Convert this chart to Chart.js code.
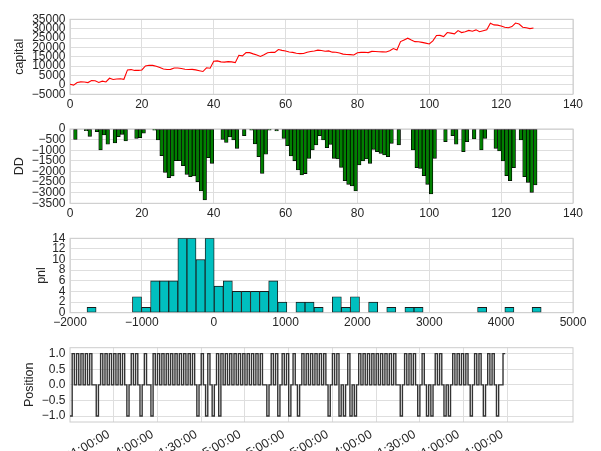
<!DOCTYPE html>
<html>
<head>
<meta charset="utf-8">
<script src="https://cdn.jsdelivr.net/npm/chart.js@4.4.1/dist/chart.umd.min.js"></script>
<style>
  html, body { margin: 0; padding: 0; background: #ffffff; }
  #wrap { position: relative; width: 601px; height: 451px; overflow: hidden; }
  canvas { position: absolute; left: 0; }
</style>
</head>
<body>
<div id="wrap">
  <canvas id="capitalChart"></canvas>
  <canvas id="ddChart"></canvas>
  <canvas id="pnlChart"></canvas>
  <canvas id="posChart"></canvas>
</div>
<script>
/* ================= DATA ================= */

// equity curve, one value per trade
const capital = [
  400, -90, 1250, 1600, 1520, 1255, 2313, 2190, 1320, 2030,
  1590, 3560, 2900, 3200, 3310, 3000, 8000, 8180, 7740, 7770,
  7980, 10140, 10500, 10440, 9980, 9244, 8460, 8210, 8286, 9010,
  9010, 8770, 8365, 8255, 8286, 8020, 7580, 7156, 9150, 8883,
  12630, 12800, 12313, 12170, 12423, 12282, 11890, 15833, 15520, 17256,
  17206, 16550, 15956, 15166, 16066, 17206, 17434, 17339, 18857, 18417,
  18072, 17587, 17357, 16927, 16690, 16757, 17475, 17868, 18103, 18543,
  18339, 17978, 18135, 17475, 17444, 17051, 16423, 16251, 16172, 15937,
  17161, 17350, 17444, 17240, 17899, 17789, 17711, 17632, 17554, 18182,
  19391, 18641, 23127, 24017, 24906, 23916, 23085, 23053, 22708, 22300,
  21846, 23526, 26329, 26400, 25800, 27930, 27616, 27210, 28998, 27928,
  28398, 29100, 28630, 29354, 28364, 28914, 29400, 32912, 32002, 31876,
  31405, 30714, 30478, 31091, 33000, 32482, 30755, 30488, 30017, 30362
];

// drawdown per trade
const drawdown = [
  0, -490, 0, 0, -80, -345, 0, -125, -990, -280,
  -720, 0, -660, -360, -250, -565, 0, 0, -440, -410,
  -200, 0, 0, -60, -520, -1256, -2040, -2290, -2214, -1490,
  -1490, -1730, -2135, -2245, -2214, -2480, -2920, -3344, -1350, -1617,
  0, 0, -487, -630, -377, -518, -910, 0, -314, 0,
  -50, -706, -1300, -2090, -1190, -50, 0, -95, 0, -440,
  -785, -1270, -1500, -1930, -2167, -2100, -1382, -989, -754, -314,
  -518, -879, -722, -1382, -1413, -1806, -2434, -2606, -2685, -2920,
  -1696, -1507, -1413, -1617, -958, -1068, -1146, -1225, -1303, -675,
  0, -750, 0, 0, 0, -990, -1821, -1853, -2198, -2606,
  -3060, -1380, 0, 0, -600, 0, -314, -720, 0, -1070,
  -600, 0, -470, 0, -990, -440, 0, 0, -910, -1036,
  -1507, -2198, -2434, -1821, 0, -518, -2245, -2512, -2983, -2638
];

// pnl histogram: 50 bins
const pnlBinStart = -1763;
const pnlBinWidth = 126.4;
const pnlCounts = [
  1, 0, 0, 0, 0, 3, 1, 6, 6, 6,
  14, 14, 10, 14, 5, 6, 4, 4, 4, 4,
  6, 2, 0, 2, 2, 1, 0, 3, 1, 3,
  0, 2, 0, 1, 0, 1, 1, 0, 0, 0,
  0, 0, 0, 1, 0, 0, 1, 0, 0, 1
];

// position at each sample (long 1, flat 0, short -1)
const positions = [
  -1, 1, 0, 1, 0, 1, 0, 1, 0, 1, 0, 0, -1, 0, 1, 0, 1, 0, 1, 0,
  1, 0, 1, 0, 1, 0, -1, 0, 1, 0, 1, 0, -1, 0, 1, 0, 0, -1, 1, 0,
  1, 0, 1, 0, 1, 0, 1, 0, 1, 0, 1, 0, 1, 0, 1, 0, 1, 0, -1, 0,
  1, 0, -1, 1, 0, -1, 0, 1, -1, 1, 0, 1, 0, 1, 0, 1, 0, 1, 0, 1,
  0, 1, 0, 1, 0, 1, 0, 1, 0, 0, -1, 0, 1, 0, 1, -1, 0, 1, 0, 1,
  -1, 0, 1, 0, -1, 0, 1, 0, 1, 0, 1, 0, 1, 0, 1, 0, 1, 0, -1, 0,
  1, 0, 1, -1, 0, -1, 0, 1, -1, 0, -1, 0, 1, 0, 1, 0, 1, 0, 1, 0,
  1, 0, 1, 0, 1, 0, 1, 0, 1, 0, 0, -1, 0, 1, 0, 1, 0, 1, 0, -1,
  0, 1, 0, -1, 0, -1, 0, 1, 0, 1, 0, -1, 0, -1, 0, 1, 0, 1, 0, 1,
  0, 1, 0, -1, 0, 1, 0, 1, 0, -1, 0, 1, 0, 1, 0, -1, 0, 0, 1, 1
];

// tick values and labels
const capitalTicks = [-5000, 0, 5000, 10000, 15000, 20000, 25000, 30000, 35000];
const tradeTicks = [0, 20, 40, 60, 80, 100, 120, 140];
const ddTicks = [-3500, -3000, -2500, -2000, -1500, -1000, -500, 0];
const pnlTicks = [-2000, -1000, 0, 1000, 2000, 3000, 4000, 5000];
const countTicks = [0, 2, 4, 6, 8, 10, 12, 14];
const positionTicks = [-1, -0.5, 0, 0.5, 1];
const timeTickAt = [20, 40, 60, 80, 100, 120, 140, 160, 180, 200];
const timeLabels = ["11:00:00", "14:00:00", "11:30:00", "15:00:00", "15:00:00",
                    "15:00:00", "14:00:00", "11:30:00", "11:00:00", "11:00:00"];

/* ================= STYLE ================= */

const FONT = "'Liberation Sans', Arial, sans-serif";
const TEXT = "#262626";
const GRID = "#dedede";
const EDGE = "#cccccc";

const minus = v => String(v).replace("-", "\u2212");

// matplotlib style frame round the plot area
const axesBox = {
  id: "axesBox",
  beforeDatasetsDraw(chart) {
    const a = chart.chartArea;
    const ctx = chart.ctx;
    ctx.save();
    ctx.strokeStyle = EDGE;
    ctx.lineWidth = 1;
    ctx.strokeRect(a.left, a.top, a.right - a.left, a.bottom - a.top);
    ctx.restore();
  }
};

function makePanel(p) {
  const canvas = document.getElementById(p.id);
  canvas.width = 601;
  canvas.height = p.bottom - p.top;
  canvas.style.top = p.top + "px";

  const tickFont = { family: FONT, size: 12 };

  return new Chart(canvas, {
    type: p.type,
    data: { datasets: p.datasets },
    plugins: [axesBox],
    options: {
      responsive: false,
      animation: false,
      events: [],
      layout: { padding: { top: p.plotTop - p.top, right: 28, bottom: 0, left: 0 } },
      plugins: { legend: { display: false }, tooltip: { enabled: false } },
      scales: {
        x: {
          type: "linear",
          min: p.xMin,
          max: p.xMax,
          offset: false,
          afterBuildTicks: s => { s.ticks = p.xTicks.map(v => ({ value: v })); },
          afterFit: s => { s.height = p.bottom - p.plotBottom; },
          grid: { color: GRID, drawTicks: false, offset: false },
          border: { display: false },
          ticks: {
            autoSkip: false,
            minRotation: p.rotation || 0,
            maxRotation: p.rotation || 0,
            padding: p.rotation ? 5 : 3,
            labelOffset: p.rotation ? -5 : 0,
            color: TEXT,
            font: p.rotation ? { family: FONT, size: 12.5 } : tickFont,
            callback: p.xLabel
          }
        },
        y: {
          type: "linear",
          min: p.yMin,
          max: p.yMax,
          afterBuildTicks: s => { s.ticks = p.yTicks.map(v => ({ value: v })); },
          afterFit: s => { s.width = 70; },
          grid: { color: GRID, drawTicks: false },
          border: { display: false },
          title: {
            display: true,
            text: p.title,
            color: TEXT,
            font: { family: FONT, size: 12.5 },
            padding: { top: p.titlePad, bottom: 0 }
          },
          ticks: {
            autoSkip: false,
            padding: 4.5,
            color: TEXT,
            font: tickFont,
            callback: p.yLabel
          }
        }
      }
    }
  });
}

/* ================= CAPITAL ================= */

makePanel({
  id: "capitalChart", top: 0, bottom: 115, plotTop: 19.3, plotBottom: 94.3,
  type: "line",
  datasets: [{
    data: capital.map((v, i) => ({ x: i, y: v })),
    borderColor: "#ff0000",
    borderWidth: 1.1,
    pointRadius: 0,
    tension: 0
  }],
  xMin: 0, xMax: 140, xTicks: tradeTicks, xLabel: v => v,
  yMin: -5000, yMax: 35000, yTicks: capitalTicks, yLabel: v => minus(v),
  title: "capital", titlePad: 12
});

/* ================= DRAWDOWN ================= */

makePanel({
  id: "ddChart", top: 115, bottom: 225, plotTop: 129, plotBottom: 203.3,
  type: "bar",
  datasets: [{
    data: drawdown.map((v, i) => ({ x: i + 0.5, y: v })),
    backgroundColor: "#008000",
    borderColor: "#000000",
    borderWidth: 0.8,
    borderSkipped: false,
    barPercentage: 1,
    categoryPercentage: 1
  }],
  xMin: 0, xMax: 140, xTicks: tradeTicks, xLabel: v => v,
  yMin: -3500, yMax: 0, yTicks: ddTicks, yLabel: v => minus(v),
  title: "DD", titlePad: 12
});

/* ================= PNL HISTOGRAM ================= */

makePanel({
  id: "pnlChart", top: 225, bottom: 335, plotTop: 238.3, plotBottom: 312.7,
  type: "bar",
  datasets: [{
    data: pnlCounts.map((c, k) => ({ x: pnlBinStart + (k + 0.5) * pnlBinWidth, y: c })),
    backgroundColor: "#00bfbf",
    borderColor: "#1a1a1a",
    borderWidth: 0.9,
    borderSkipped: false,
    barPercentage: 1,
    categoryPercentage: 1
  }],
  xMin: -2000, xMax: 5000, xTicks: pnlTicks, xLabel: v => minus(v),
  yMin: 0, yMax: 14, yTicks: countTicks, yLabel: v => v,
  title: "pnl", titlePad: 33.7
});

/* ================= POSITION ================= */

makePanel({
  id: "posChart", top: 335, bottom: 451, plotTop: 347.7, plotBottom: 422,
  type: "line",
  datasets: [{
    data: positions.map((v, i) => ({ x: i, y: v })),
    borderColor: "#333333",
    borderWidth: 1.4,
    pointRadius: 0,
    stepped: true
  }],
  xMin: 0, xMax: 230, xTicks: timeTickAt, rotation: 30,
  xLabel: v => timeLabels[timeTickAt.indexOf(v)] || "",
  yMin: -1.19, yMax: 1.19, yTicks: positionTicks, yLabel: v => minus(v.toFixed(1)),
  title: "Position", titlePad: 22.5
});
</script>
</body>
</html>
